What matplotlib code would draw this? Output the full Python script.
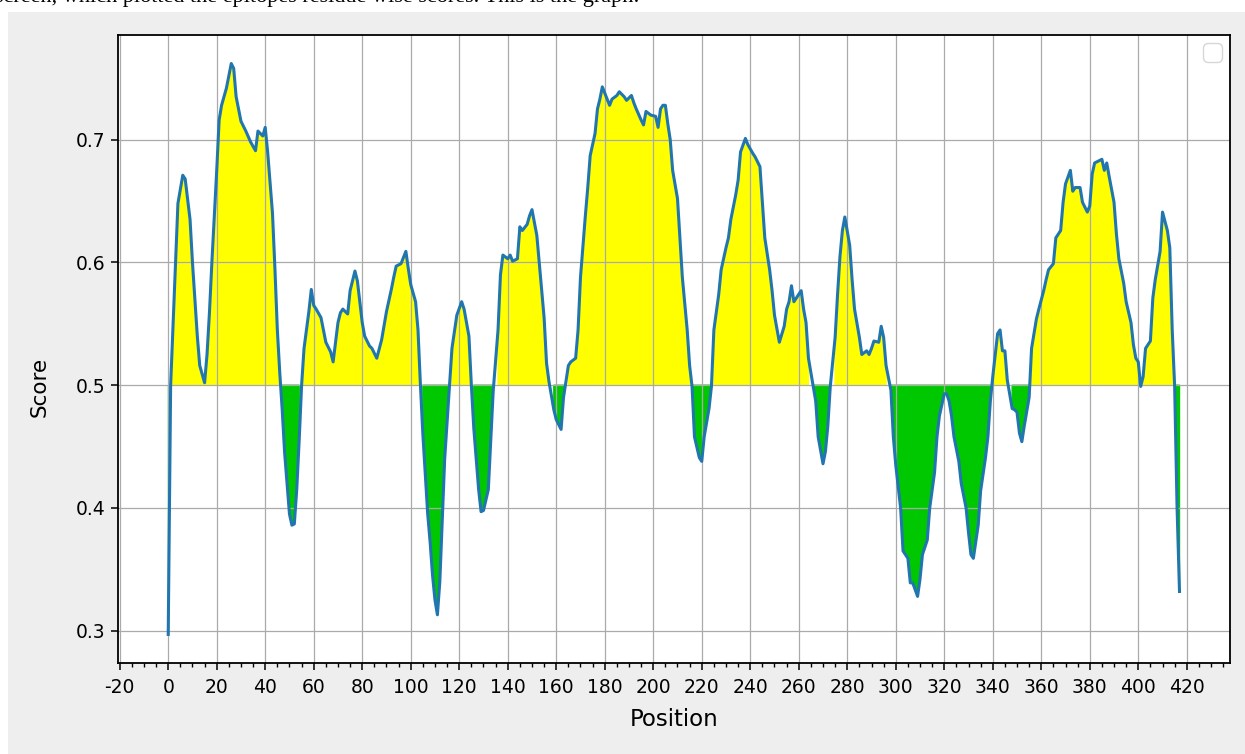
import matplotlib.pyplot as plt
import numpy as np
from matplotlib.patches import Rectangle
from matplotlib.ticker import MultipleLocator, AutoMinorLocator

# residue positions and smoothed epitope scores
position = [0, 1, 2, 3, 4, 6, 7, 9, 10, 12, 13, 15, 16, 17, 18, 20, 21, 22, 24, 25,
            26, 27, 28, 30, 32, 34, 36, 37, 38, 39, 40, 41, 43, 44, 45, 46, 47, 48, 50, 51,
            52, 53, 54, 55, 56, 58, 59, 60, 61, 63, 65, 67, 68, 70, 71, 72, 74, 75, 77, 78,
            79, 80, 81, 83, 84, 86, 88, 90, 92, 93, 94, 96, 98, 99, 100, 102, 103, 104, 105, 107,
            108, 109, 110, 111, 112, 113, 114, 115, 116, 117, 119, 121, 122, 124, 125, 126, 128, 129, 130, 132,
            133, 134, 136, 137, 138, 140, 141, 142, 144, 145, 146, 148, 149, 150, 152, 153, 155, 156, 157, 159,
            160, 161, 162, 163, 165, 166, 168, 169, 170, 172, 173, 174, 176, 177, 178, 179, 181, 182, 183, 185,
            186, 188, 189, 191, 192, 193, 195, 196, 197, 199, 201, 202, 203, 204, 205, 206, 207, 208, 210, 211,
            212, 214, 215, 216, 217, 219, 220, 221, 223, 224, 225, 227, 228, 230, 231, 232, 234, 235, 236, 238,
            239, 241, 242, 244, 245, 246, 248, 249, 250, 252, 254, 255, 256, 257, 258, 259, 261, 262, 263, 264,
            266, 267, 268, 270, 271, 272, 273, 275, 276, 277, 278, 279, 281, 282, 283, 285, 286, 288, 289, 290,
            291, 293, 294, 295, 296, 298, 299, 300, 302, 303, 305, 306, 307, 309, 310, 311, 313, 314, 316, 317,
            318, 320, 321, 322, 323, 324, 326, 327, 329, 330, 331, 332, 334, 335, 337, 338, 339, 340, 342, 343,
            344, 345, 346, 348, 349, 350, 351, 352, 353, 355, 356, 358, 359, 361, 362, 363, 365, 366, 368, 369,
            370, 372, 373, 374, 376, 377, 379, 380, 381, 382, 384, 385, 386, 387, 388, 390, 391, 392, 394, 395,
            397, 398, 399, 400, 401, 402, 403, 405, 406, 407, 409, 410, 412, 413, 414, 415, 416, 417]
score = [0.297, 0.500, 0.550, 0.600, 0.648, 0.671, 0.668, 0.635, 0.600, 0.540, 0.516, 0.502, 0.525, 0.559, 0.600, 0.675, 0.716, 0.728, 0.742, 0.752,
         0.762, 0.758, 0.735, 0.715, 0.707, 0.698, 0.691, 0.707, 0.705, 0.703, 0.710, 0.690, 0.640, 0.595, 0.545, 0.510, 0.480, 0.445, 0.395, 0.386,
         0.387, 0.415, 0.455, 0.500, 0.530, 0.560, 0.578, 0.565, 0.562, 0.555, 0.535, 0.527, 0.519, 0.551, 0.559, 0.562, 0.558, 0.577, 0.593, 0.585,
         0.568, 0.551, 0.540, 0.532, 0.530, 0.522, 0.537, 0.560, 0.578, 0.588, 0.597, 0.599, 0.609, 0.595, 0.582, 0.568, 0.545, 0.500, 0.460, 0.395,
         0.372, 0.345, 0.325, 0.313, 0.340, 0.390, 0.440, 0.470, 0.499, 0.530, 0.557, 0.568, 0.562, 0.540, 0.500, 0.465, 0.415, 0.397, 0.398, 0.415,
         0.455, 0.495, 0.545, 0.590, 0.606, 0.603, 0.606, 0.601, 0.603, 0.629, 0.626, 0.631, 0.638, 0.643, 0.622, 0.600, 0.555, 0.518, 0.503, 0.480,
         0.472, 0.468, 0.464, 0.490, 0.516, 0.519, 0.522, 0.545, 0.588, 0.638, 0.661, 0.687, 0.705, 0.725, 0.733, 0.743, 0.733, 0.728, 0.733, 0.736,
         0.739, 0.735, 0.732, 0.736, 0.730, 0.725, 0.716, 0.712, 0.723, 0.720, 0.719, 0.710, 0.725, 0.728, 0.728, 0.713, 0.700, 0.675, 0.652, 0.620,
         0.588, 0.545, 0.516, 0.499, 0.458, 0.441, 0.438, 0.458, 0.481, 0.499, 0.545, 0.574, 0.594, 0.612, 0.620, 0.635, 0.655, 0.667, 0.690, 0.701,
         0.696, 0.689, 0.686, 0.678, 0.649, 0.620, 0.594, 0.577, 0.557, 0.535, 0.548, 0.562, 0.568, 0.581, 0.568, 0.571, 0.577, 0.562, 0.551, 0.522,
         0.499, 0.487, 0.458, 0.436, 0.446, 0.467, 0.499, 0.539, 0.574, 0.605, 0.626, 0.637, 0.614, 0.586, 0.562, 0.539, 0.525, 0.528, 0.525, 0.530,
         0.536, 0.535, 0.548, 0.539, 0.516, 0.496, 0.458, 0.435, 0.400, 0.365, 0.359, 0.339, 0.339, 0.328, 0.342, 0.362, 0.374, 0.400, 0.429, 0.458,
         0.475, 0.493, 0.493, 0.487, 0.475, 0.458, 0.438, 0.420, 0.400, 0.380, 0.362, 0.359, 0.386, 0.414, 0.441, 0.458, 0.487, 0.507, 0.542, 0.545,
         0.528, 0.528, 0.504, 0.481, 0.480, 0.478, 0.461, 0.454, 0.467, 0.490, 0.530, 0.554, 0.562, 0.577, 0.586, 0.594, 0.599, 0.620, 0.626, 0.649,
         0.664, 0.675, 0.658, 0.661, 0.661, 0.649, 0.641, 0.646, 0.672, 0.681, 0.683, 0.684, 0.675, 0.681, 0.670, 0.649, 0.623, 0.603, 0.583, 0.568,
         0.551, 0.533, 0.522, 0.519, 0.499, 0.507, 0.530, 0.536, 0.571, 0.586, 0.609, 0.641, 0.626, 0.612, 0.545, 0.499, 0.400, 0.332]
threshold = 0.5
caption = "screen, which plotted the epitopes residue wise scores. This is the graph:"

pos = np.array(position)
sc = np.array(score)

plt.rcParams['axes.unicode_minus'] = False

fig = plt.figure(figsize=(12.45, 7.54), dpi=100)
fig.patch.set_facecolor('white')
# window background behind the plot
fig.patches.append(Rectangle((8 / 1245, 0), 1, 1 - 12 / 754, transform=fig.transFigure,
                             facecolor='#eeeeee', edgecolor='none', zorder=-10))
fig.text(-0.004, 1 - 2 / 754, caption, family='Liberation Serif', fontsize=16, va='baseline')

ax = fig.add_axes([0.0945, 0.1207, 0.8935, 0.8329])
ax.fill_between(pos, sc, threshold, where=sc >= threshold, color='yellow')
ax.fill_between(pos, sc, threshold, where=sc < threshold, color='#00c800')
ax.plot(pos, sc, color='#2176b0', lw=2.2)

ax.xaxis.set_major_locator(MultipleLocator(20))
ax.xaxis.set_minor_locator(AutoMinorLocator())
ax.tick_params(which='major', labelsize=13.5, length=5, width=1.1)
ax.tick_params(axis='x', which='major', pad=6)
ax.tick_params(which='minor', length=3, width=1.0)
ax.grid(True, color='#aaaaaa', lw=0.9)
for s in ax.spines.values():
    s.set_linewidth(1.3)
ax.set_xlabel('Position', fontsize=16.5, labelpad=8)
ax.set_ylabel('Score', fontsize=15.5)
ax.yaxis.set_label_coords(-0.061, 0.44)
ax.legend(loc='upper right', fontsize=17, borderaxespad=0.35)

fig.savefig('out.png', dpi=100)
